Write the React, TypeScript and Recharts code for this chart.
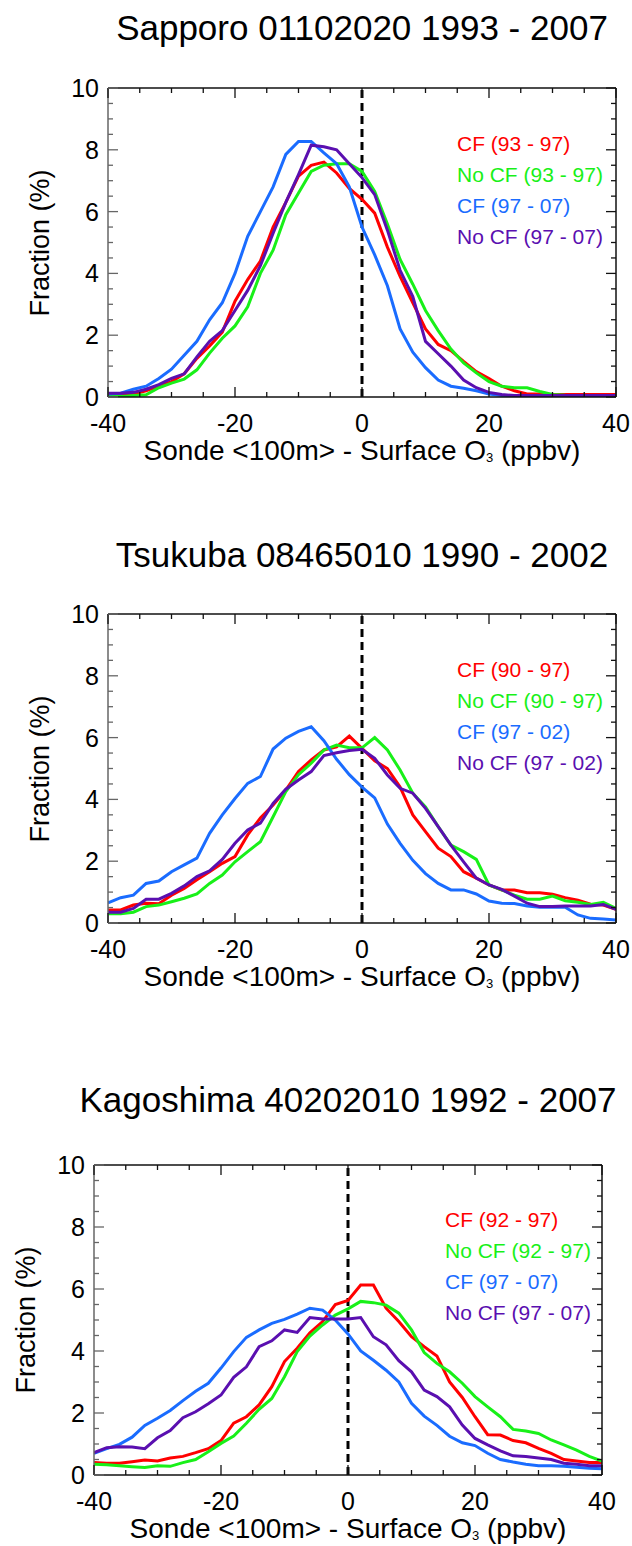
import { LineChart, Line, XAxis, YAxis, ReferenceLine, Legend } from "recharts";

const FONT = '"Liberation Sans", Arial, Helvetica, sans-serif';

// bin centres, ppbv
const bins = [
  -40, -38, -36, -34, -32, -30, -28, -26, -24, -22, -20, -18, -16, -14, -12, -10, -8, -6, -4, -2, 0,
  2, 4, 6, 8, 10, 12, 14, 16, 18, 20, 22, 24, 26, 28, 30, 32, 34, 36, 38, 40,
];
const xTicks = [-40, -35, -30, -25, -20, -15, -10, -5, 0, 5, 10, 15, 20, 25, 30, 35, 40];
const yTicks = [0, 0.5, 1, 1.5, 2, 2.5, 3, 3.5, 4, 4.5, 5, 5.5, 6, 6.5, 7, 7.5, 8, 8.5, 9, 9.5, 10];

// Sapporo
const sapporoCf1 = [0.05, 0.05, 0.1, 0.2, 0.35, 0.5, 0.75, 1.25, 1.65, 2.1, 3.1, 3.8, 4.4, 5.5, 6.3, 7.15, 7.5, 7.6, 7.25, 6.75, 6.4,
  5.95, 4.85, 3.9, 3.05, 2.2, 1.7, 1.5, 1.15, 0.82, 0.6, 0.35, 0.2, 0.1, 0.1, 0.08, 0.08, 0.08, 0.08, 0.08, 0.08];
const sapporoNoCf1 = [0.02, 0.02, 0.05, 0.07, 0.3, 0.45, 0.58, 0.88, 1.42, 1.9, 2.3, 2.92, 4.0, 4.75, 5.9, 6.6, 7.3, 7.5, 7.55, 7.55, 7.3,
  6.65, 5.6, 4.45, 3.65, 2.8, 2.15, 1.55, 1.1, 0.78, 0.5, 0.35, 0.3, 0.3, 0.18, 0.08, 0.06, 0.05, 0.05, 0.05, 0.05];
const sapporoCf2 = [0.1, 0.12, 0.25, 0.35, 0.6, 0.9, 1.35, 1.8, 2.5, 3.05, 4.0, 5.2, 6.0, 6.8, 7.85, 8.27, 8.27, 7.9, 7.55, 6.8, 5.5,
  4.6, 3.6, 2.2, 1.45, 0.95, 0.55, 0.35, 0.28, 0.2, 0.1, 0.05, 0.03, 0.02, 0.02, 0.02, 0.02, 0.02, 0.02, 0.02, 0.02];
const sapporoNoCf2 = [0.12, 0.12, 0.15, 0.25, 0.4, 0.6, 0.75, 1.3, 1.8, 2.15, 2.8, 3.45, 4.25, 5.3, 6.3, 7.2, 8.15, 8.1, 8.0, 7.55, 7.1,
  6.55, 5.4, 4.1, 3.25, 1.8, 1.4, 1.0, 0.55, 0.3, 0.15, 0.08, 0.05, 0.05, 0.05, 0.05, 0.05, 0.05, 0.05, 0.05, 0.05];

// Tsukuba
const tsukubaCf1 = [0.42, 0.42, 0.58, 0.64, 0.62, 0.9, 1.12, 1.4, 1.66, 1.93, 2.15, 2.85, 3.4, 3.82, 4.3, 4.9, 5.28, 5.6, 5.7, 6.05, 5.65,
  5.25, 5.0, 4.4, 3.5, 2.96, 2.42, 2.15, 1.66, 1.45, 1.23, 1.07, 1.07, 0.98, 0.98, 0.93, 0.82, 0.74, 0.61, 0.58, 0.44];
const tsukubaNoCf1 = [0.3, 0.3, 0.35, 0.53, 0.58, 0.69, 0.8, 0.94, 1.28, 1.55, 1.98, 2.31, 2.63, 3.44, 4.25, 4.8, 5.17, 5.6, 5.76, 5.67, 5.67,
  6.0, 5.6, 4.95, 4.2, 3.76, 3.12, 2.52, 2.31, 2.06, 1.23, 1.07, 0.9, 0.77, 0.77, 0.87, 0.72, 0.67, 0.6, 0.67, 0.47];
const tsukubaCf2 = [0.65, 0.82, 0.9, 1.28, 1.36, 1.66, 1.88, 2.1, 2.9, 3.5, 4.03, 4.52, 4.74, 5.63, 5.98, 6.2, 6.35, 5.9, 5.3, 4.8, 4.4,
  4.05, 3.2, 2.58, 2.03, 1.6, 1.28, 1.07, 1.07, 0.94, 0.71, 0.64, 0.63, 0.55, 0.51, 0.51, 0.51, 0.26, 0.15, 0.13, 0.1];
const tsukubaNoCf2 = [0.35, 0.35, 0.47, 0.77, 0.77, 0.96, 1.2, 1.5, 1.69, 2.06, 2.58, 3.01, 3.23, 3.87, 4.33, 4.63, 4.9, 5.42, 5.51, 5.58, 5.62,
  5.33, 4.79, 4.36, 4.2, 3.71, 3.12, 2.52, 1.98, 1.45, 1.23, 1.09, 0.87, 0.64, 0.53, 0.53, 0.55, 0.55, 0.55, 0.6, 0.44];

// Kagoshima
const kagoshimaCf1 = [0.4, 0.38, 0.38, 0.43, 0.48, 0.45, 0.55, 0.6, 0.72, 0.85, 1.11, 1.67, 1.88, 2.26, 2.85, 3.66, 4.09, 4.59, 4.95, 5.5, 5.63,
  6.13, 6.13, 5.38, 4.95, 4.46, 4.14, 3.84, 3.0, 2.5, 1.88, 1.3, 1.29, 1.11, 1.04, 0.86, 0.7, 0.5, 0.45, 0.4, 0.4];
const kagoshimaNoCf1 = [0.35, 0.33, 0.3, 0.27, 0.24, 0.3, 0.28, 0.4, 0.5, 0.75, 1.02, 1.26, 1.67, 2.12, 2.47, 3.17, 3.98, 4.48, 4.84, 5.16, 5.36,
  5.6, 5.56, 5.48, 5.22, 4.68, 3.95, 3.6, 3.33, 2.96, 2.53, 2.2, 1.88, 1.47, 1.42, 1.34, 1.13, 0.97, 0.8, 0.6, 0.45];
const kagoshimaCf2 = [0.7, 0.85, 0.99, 1.22, 1.6, 1.83, 2.08, 2.4, 2.7, 2.96, 3.45, 3.98, 4.44, 4.68, 4.89, 5.02, 5.19, 5.38, 5.32, 5.0, 4.55,
  4.0, 3.7, 3.38, 3.0, 2.31, 1.9, 1.6, 1.25, 1.04, 0.95, 0.7, 0.5, 0.42, 0.35, 0.3, 0.3, 0.28, 0.25, 0.22, 0.2];
const kagoshimaNoCf2 = [0.72, 0.88, 0.91, 0.9, 0.85, 1.2, 1.43, 1.85, 2.04, 2.3, 2.58, 3.15, 3.49, 4.14, 4.33, 4.68, 4.6, 5.08, 5.03, 5.03, 5.03,
  5.08, 4.46, 4.2, 3.69, 3.33, 2.74, 2.53, 2.2, 1.61, 1.18, 0.97, 0.78, 0.62, 0.6, 0.55, 0.5, 0.38, 0.35, 0.3, 0.3];

const COLORS = ["#ff0000", "#18f018", "#1a6cff", "#5a0fb0"];

const PANELS = [
  {
    title: "Sapporo 01102020 1993 - 2007",
    names: ["CF (93 - 97)", "No CF (93 - 97)", "CF (97 - 07)", "No CF (97 - 07)"],
    series: [sapporoCf1, sapporoNoCf1, sapporoCf2, sapporoNoCf2],
    top: 0, left: 108, right: 616, bottom: 397, titleY: 28, legendX: 457, legendY: 128,
  },
  {
    title: "Tsukuba 08465010 1990 - 2002",
    names: ["CF (90 - 97)", "No CF (90 - 97)", "CF (97 - 02)", "No CF (97 - 02)"],
    series: [tsukubaCf1, tsukubaNoCf1, tsukubaCf2, tsukubaNoCf2],
    top: 526, left: 108, right: 616, bottom: 397, titleY: 29, legendX: 457, legendY: 128,
  },
  {
    title: "Kagoshima 40202010 1992 - 2007",
    names: ["CF (92 - 97)", "No CF (92 - 97)", "CF (97 - 07)", "No CF (97 - 07)"],
    series: [kagoshimaCf1, kagoshimaNoCf1, kagoshimaCf2, kagoshimaNoCf2],
    top: 1077, left: 94, right: 602, bottom: 398, titleY: 23, legendX: 445, legendY: 127,
  },
];

const H = 469;
const PLOT_TOP = 88;
const AXIS = "#111";

function BottomTick({ x, y, payload }: any) {
  const v = payload.value;
  const major = v % 20 === 0;
  return (
    <g>
      <line x1={x} x2={x} y1={y} y2={y - (major ? 10 : 5)} stroke={AXIS} strokeWidth={1.3} />
      {major && (
        <text x={x} y={y + 26} textAnchor="middle" dominantBaseline="central" fontSize={25} fontFamily={FONT} fill="#000">
          {v}
        </text>
      )}
    </g>
  );
}

function TopTick({ x, y, payload }: any) {
  const major = payload.value % 20 === 0;
  return <line x1={x} x2={x} y1={y} y2={y + (major ? 10 : 5)} stroke={AXIS} strokeWidth={1.3} />;
}

function LeftTick({ x, y, payload }: any) {
  const v = payload.value;
  const major = v % 2 === 0;
  return (
    <g>
      <line x1={x} x2={x + (major ? 10 : 5)} y1={y} y2={y} stroke="#666" strokeWidth={1.3} />
      {major && (
        <text x={x - 9} y={y} textAnchor="end" dominantBaseline="central" fontSize={25} fontFamily={FONT} fill="#000">
          {v}
        </text>
      )}
    </g>
  );
}

function RightTick({ x, y, payload }: any) {
  const major = payload.value % 2 === 0;
  return <line x1={x} x2={x - (major ? 10 : 5)} y1={y} y2={y} stroke={AXIS} strokeWidth={1.3} />;
}

function NameList({ payload, order }: any) {
  const items = [...(payload ?? [])].sort(
    (a: any, b: any) => order.indexOf(a.value) - order.indexOf(b.value),
  );
  return (
    <div style={{ fontFamily: FONT, fontSize: 21, lineHeight: "31px", whiteSpace: "nowrap" }}>
      {items.map((e: any) => (
        <div key={e.value} style={{ color: e.color }}>
          {e.value}
        </div>
      ))}
    </div>
  );
}

function Panel({ p }: { p: (typeof PANELS)[number] }) {
  const data = bins.map((x, i) => ({
    x,
    s0: p.series[0][i],
    s1: p.series[1][i],
    s2: p.series[2][i],
    s3: p.series[3][i],
  }));
  const mid = (p.left + p.right) / 2;
  return (
    <div style={{ position: "absolute", left: 0, top: p.top, width: 632, height: H }}>
      <div
        style={{
          position: "absolute", left: mid, top: p.titleY, transform: "translate(-50%, -50%)",
          whiteSpace: "nowrap", fontSize: 35, lineHeight: "40px", color: "#000",
        }}
      >
        {p.title}
      </div>
      <LineChart
        width={632}
        height={H}
        data={data}
        margin={{ top: PLOT_TOP - 1, left: p.left - 1, right: 632 - p.right - 1, bottom: H - p.bottom - 1 }}
      >
        <XAxis xAxisId="b" dataKey="x" type="number" domain={[-40, 40]} ticks={xTicks} interval={0}
          height={1} tickSize={0} tickMargin={0} tickLine={false} tick={(t: any) => <BottomTick {...t} />}
          axisLine={{ stroke: AXIS, strokeWidth: 1.5 }} allowDataOverflow />
        <XAxis xAxisId="t" orientation="top" dataKey="x" type="number" domain={[-40, 40]} ticks={xTicks} interval={0}
          height={1} tickSize={0} tickMargin={0} tickLine={false} tick={(t: any) => <TopTick {...t} />}
          axisLine={{ stroke: AXIS, strokeWidth: 1.5 }} allowDataOverflow />
        <YAxis yAxisId="l" type="number" domain={[0, 10]} ticks={yTicks} interval={0}
          width={1} tickSize={0} tickMargin={0} tickLine={false} tick={(t: any) => <LeftTick {...t} />}
          axisLine={{ stroke: "#666", strokeWidth: 1.5 }} allowDataOverflow />
        <YAxis yAxisId="r" orientation="right" type="number" domain={[0, 10]} ticks={yTicks} interval={0}
          width={1} tickSize={0} tickMargin={0} tickLine={false} tick={(t: any) => <RightTick {...t} />}
          axisLine={{ stroke: AXIS, strokeWidth: 1.5 }} allowDataOverflow />
        <ReferenceLine xAxisId="b" yAxisId="l" x={0} stroke="#000" strokeWidth={3} strokeDasharray="8 5" />
        <Legend
          layout="horizontal"
          verticalAlign="middle"
          align="center"
          content={<NameList order={p.names} />}
          wrapperStyle={{ position: "absolute", top: p.legendY, left: p.legendX, width: "auto" }}
        />
        {p.names.map((name, k) => (
          <Line
            key={name}
            xAxisId="b"
            yAxisId="l"
            dataKey={`s${k}`}
            name={name}
            stroke={COLORS[k]}
            strokeWidth={3}
            dot={false}
            activeDot={false}
            isAnimationActive={false}
          />
        ))}
      </LineChart>
      <div
        style={{
          position: "absolute", left: mid, top: p.bottom + 57, transform: "translate(-50%, -50%)",
          whiteSpace: "nowrap", fontSize: 28, lineHeight: "28px", color: "#000",
        }}
      >
        Sonde &lt;100m&gt; - Surface O<span style={{ fontSize: 13, verticalAlign: "-2px" }}>3</span> (ppbv)
      </div>
      <div
        style={{
          position: "absolute", left: p.left - 68, top: (PLOT_TOP + p.bottom) / 2,
          transform: "translate(-50%, -50%) rotate(-90deg)", whiteSpace: "nowrap",
          fontSize: 27, lineHeight: "32px", color: "#000",
        }}
      >
        Fraction (%)
      </div>
    </div>
  );
}

export default function App() {
  return (
    <div style={{ position: "absolute", left: 0, top: 0, width: 632, height: 1546, background: "#fff", fontFamily: FONT }}>
      {PANELS.map((p) => (
        <Panel key={p.title} p={p} />
      ))}
    </div>
  );
}
